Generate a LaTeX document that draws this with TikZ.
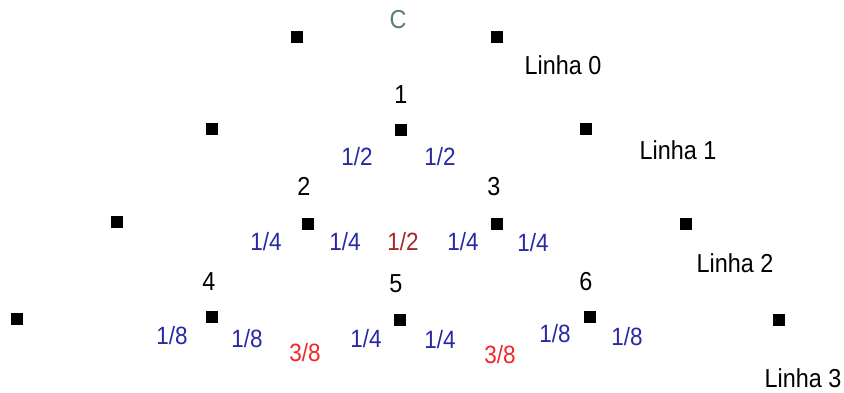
\documentclass[tikz,border=0pt]{standalone}
\usepackage{fontspec}
\setmainfont{Liberation Sans}[FakeStretch=0.9]
\definecolor{fblue}{RGB}{40,40,165}
\definecolor{fbrown}{RGB}{165,40,40}
\definecolor{fred}{RGB}{240,40,40}
\definecolor{cgray}{RGB}{90,125,125}
\begin{document}
\begin{tikzpicture}[x=1pt,y=-1pt,
  sq/.style={fill=black,minimum size=12.5pt,inner sep=0pt},
  lbl/.style={font=\fontsize{26}{26}\selectfont,inner sep=0pt},
  fr/.style={font=\fontsize{25}{25}\selectfont,inner sep=0pt,text=fblue},
]
\useasboundingbox (0,0) rectangle (844,392);
% row 0
\node[sq] (s01) at (297,37) {};
\node[sq] (s02) at (497,37) {};
\node[lbl,text=cgray] (c) at (398,20) {C};
\node[lbl] (l0) at (563,65) {Linha 0};
% row 1
\node[sq] (s11) at (212,129) {};
\node[sq] (s12) at (401,130) {};
\node[sq] (s13) at (586,129) {};
\node[lbl] (n1) at (401,95) {1};
\node[lbl] (l1) at (678,150) {Linha 1};
\node[fr] (f11) at (357,157) {1/2};
\node[fr] (f12) at (440,157) {1/2};
% row 2
\node[sq] (s21) at (117,222) {};
\node[sq] (s22) at (308,224) {};
\node[sq] (s23) at (497,224) {};
\node[sq] (s24) at (686,224) {};
\node[lbl] (n2) at (304,186) {2};
\node[lbl] (n3) at (494,187) {3};
\node[lbl] (l2) at (735,263) {Linha 2};
\node[fr] (f21) at (266,242) {1/4};
\node[fr] (f22) at (345,242) {1/4};
\node[fr,text=fbrown] (f23) at (403,242) {1/2};
\node[fr] (f24) at (463,242) {1/4};
\node[fr] (f25) at (533,243) {1/4};
% row 3
\node[sq] (s31) at (17,319) {};
\node[sq] (s32) at (212,317) {};
\node[sq] (s33) at (400,320) {};
\node[sq] (s34) at (590,317) {};
\node[sq] (s35) at (779,320) {};
\node[lbl] (n4) at (209,282) {4};
\node[lbl] (n5) at (396,284) {5};
\node[lbl] (n6) at (586,282) {6};
\node[lbl] (l3) at (803,378) {Linha 3};
\node[fr] (f31) at (172,336) {1/8};
\node[fr] (f32) at (247,339) {1/8};
\node[fr,text=fred] (f33) at (305,353) {3/8};
\node[fr] (f34) at (366,339) {1/4};
\node[fr] (f35) at (440,340) {1/4};
\node[fr,text=fred] (f36) at (500,355) {3/8};
\node[fr] (f37) at (555,334) {1/8};
\node[fr] (f38) at (627,337) {1/8};
\end{tikzpicture}
\end{document}
